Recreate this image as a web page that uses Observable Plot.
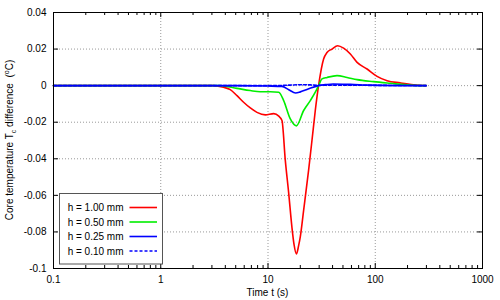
<!DOCTYPE html>
<html><head><meta charset="utf-8">
<script src="https://cdn.jsdelivr.net/npm/d3@7"></script>
<script src="https://cdn.jsdelivr.net/npm/@observablehq/plot@0.6"></script>
<style>
body{margin:0;background:#fff}
#chart{position:relative;width:500px;height:300px}
</style>
</head><body><div id="chart"></div>
<script>
// ---- data ----
const seriesNames = ["h = 1.00 mm", "h = 0.50 mm", "h = 0.25 mm", "h = 0.10 mm"];
const seriesColors = ["#ff0000", "#00ee00", "#0000ff", "#0000ff"];
const seriesDash = [null, null, null, "3,2"];

const t100 = [0.1, 3.1, 3.85, 4.45, 5.14, 5.92, 6.84, 7.89, 9.44, 11.3, 12.6, 13.5, 14.5, 15.6, 16.7, 17.5, 18.4, 19.3, 20.0, 21.5, 23.9, 25.7, 27.6, 29.6, 33.0, 35.5, 39.5, 44.6, 50.7, 58.6, 67.7, 83.9, 104, 129, 171, 228, 298];
const v100 = [0, 0, -0.0009, -0.0022, -0.0055, -0.0091, -0.0122, -0.0146, -0.0160, -0.0153, -0.0167, -0.0191, -0.0409, -0.0589, -0.0772, -0.0870, -0.0921, -0.0875, -0.0827, -0.0681, -0.0463, -0.0300, -0.0136, 0, 0.0146, 0.0181, 0.0200, 0.0218, 0.0205, 0.0173, 0.0127, 0.0091, 0.0051, 0.0027, 0.0015, 0.0005, 0];

const t050 = [0.1, 3.6, 5.14, 6.84, 8.47, 10.5, 12.6, 14.0, 16.1, 18.4, 21.5, 24.8, 27.6, 29.6, 31.9, 35.5, 44.0, 54.6, 67.7, 96.6, 138, 212, 298];
const v050 = [0, 0, -0.0015, -0.0027, -0.0033, -0.0033, -0.0036, -0.0082, -0.0181, -0.0220, -0.0136, -0.0082, -0.0036, 0, 0.0037, 0.0045, 0.0055, 0.0045, 0.0033, 0.0022, 0.0013, 0.0003, 0];

const t025 = [0.1, 5, 10, 13.5, 15.6, 18.1, 20.0, 22.3, 25.0, 29.6, 35.0, 40.6, 58.6, 90, 298];
const v025 = [0, 0, -0.0002, -0.0004, -0.0022, -0.0040, -0.0034, -0.0024, -0.0013, 0, 0.0006, 0.0009, 0.0007, 0.0003, 0];

const t010 = [0.1, 12, 16, 20, 25, 29.6, 40, 70, 150, 298];
const v010 = [0, 0, 0.0003, 0.0005, 0.0004, 0.0002, 0.0003, 0.0002, 0.0001, 0];

const xTicks = [0.1, 1, 10, 100, 1000];
const xTickLabels = ["0.1", "1", "10", "100", "1000"];
const yTicks = [0.04, 0.02, 0, -0.02, -0.04, -0.06, -0.08, -0.1];
const yTickLabels = ["0.04", "0.02", "0", "-0.02", "-0.04", "-0.06", "-0.08", "-0.1"];
const xGrid = [1, 10, 100];
const yGrid = [0.02, 0, -0.02, -0.04, -0.06, -0.08];

// ---- build ----
const allT = [t100, t050, t025, t010];
const allV = [v100, v050, v025, v010];
const rows = [];
allT.forEach((ts, s) => ts.forEach((t, i) => rows.push({s, t, v: allV[s][i]})));

const minorX = [];
for (const d of [0.1, 1, 10, 100]) for (let k = 2; k <= 9; k++) minorX.push(+(d * k).toPrecision(3));

const W = 500, H = 300, mL = 53, mR = 18, mT = 12, mB = 32;
const pw = W - mL - mR, ph = H - mT - mB;
const font = "'Liberation Sans', Arial, Helvetica, sans-serif";

const lineMarks = [0, 1, 2, 3].map(s => Plot.line(rows.filter(r => r.s === s), {
  x: "t", y: "v", stroke: seriesColors[s], strokeWidth: 1.6,
  strokeDasharray: seriesDash[s] || undefined, curve: "monotone-x"
}));

const plot = Plot.plot({
  width: W, height: H, marginLeft: mL, marginRight: mR, marginTop: mT, marginBottom: mB,
  style: {fontFamily: font, fontSize: "10px", background: "white", color: "black"},
  x: {type: "log", domain: [0.1, 1000]},
  y: {domain: [-0.1, 0.04]},
  marks: [
    Plot.ruleX(xGrid, {x: d => d, stroke: "#999", strokeDasharray: "1,2", strokeWidth: 1}),
    Plot.ruleY(yGrid, {y: d => d, stroke: "#999", strokeDasharray: "1,2", strokeWidth: 1}),
    Plot.tickX(xTicks, {x: d => d, insetTop: ph - 5, stroke: "black"}),
    Plot.tickX(xTicks, {x: d => d, insetBottom: ph - 5, stroke: "black"}),
    Plot.tickX(minorX, {x: d => d, insetTop: ph - 3, stroke: "black"}),
    Plot.tickX(minorX, {x: d => d, insetBottom: ph - 3, stroke: "black"}),
    Plot.tickY(yTicks, {y: d => d, insetRight: pw - 5, stroke: "black"}),
    Plot.tickY(yTicks, {y: d => d, insetLeft: pw - 5, stroke: "black"}),
    ...lineMarks,
    Plot.frame({stroke: "black", strokeWidth: 1}),
    Plot.axisX({ticks: xTicks, tickSize: 0, tickPadding: 7, label: null,
      tickFormat: d => xTickLabels[xTicks.indexOf(d)]}),
    Plot.axisY({ticks: yTicks, tickSize: 0, tickPadding: 7, label: null,
      tickFormat: d => yTickLabels[yTicks.indexOf(d)]})
  ]
});
document.getElementById("chart").appendChild(plot);

const svg = d3.select(plot);
// axis titles
svg.append("text").attr("x", mL + pw / 2).attr("y", 296).attr("text-anchor", "middle")
  .attr("font-family", font).attr("font-size", 10).attr("fill", "black").text("Time t (s)");
const yt = svg.append("text").attr("transform", `translate(12.5,${mT + ph / 2}) rotate(-90)`)
  .attr("text-anchor", "middle").attr("font-family", font).attr("font-size", 10).attr("fill", "black");
yt.append("tspan").text("Core temperature T");
yt.append("tspan").attr("font-size", 7).attr("dy", 3).text("c");
yt.append("tspan").attr("dy", -3).text(" difference  (");
yt.append("tspan").attr("font-size", 7).attr("dy", -4).text("o");
yt.append("tspan").attr("dy", 4).text("C)");

// legend
const lg = svg.append("g");
lg.append("rect").attr("x", 59.5).attr("y", 193.5).attr("width", 103).attr("height", 70.5)
  .attr("fill", "white").attr("stroke", "#555").attr("stroke-width", 1);
seriesNames.forEach((name, i) => {
  const cy = 207.5 + i * 14.5;
  lg.append("text").attr("x", 123.5).attr("y", cy).attr("dy", "0.35em").attr("text-anchor", "end")
    .attr("font-family", font).attr("font-size", 10).attr("fill", "black").text(name);
  lg.append("line").attr("x1", 129.5).attr("x2", 157).attr("y1", cy).attr("y2", cy)
    .attr("stroke", seriesColors[i]).attr("stroke-width", 1.6)
    .attr("stroke-dasharray", seriesDash[i]);
});
</script>
</body></html>
